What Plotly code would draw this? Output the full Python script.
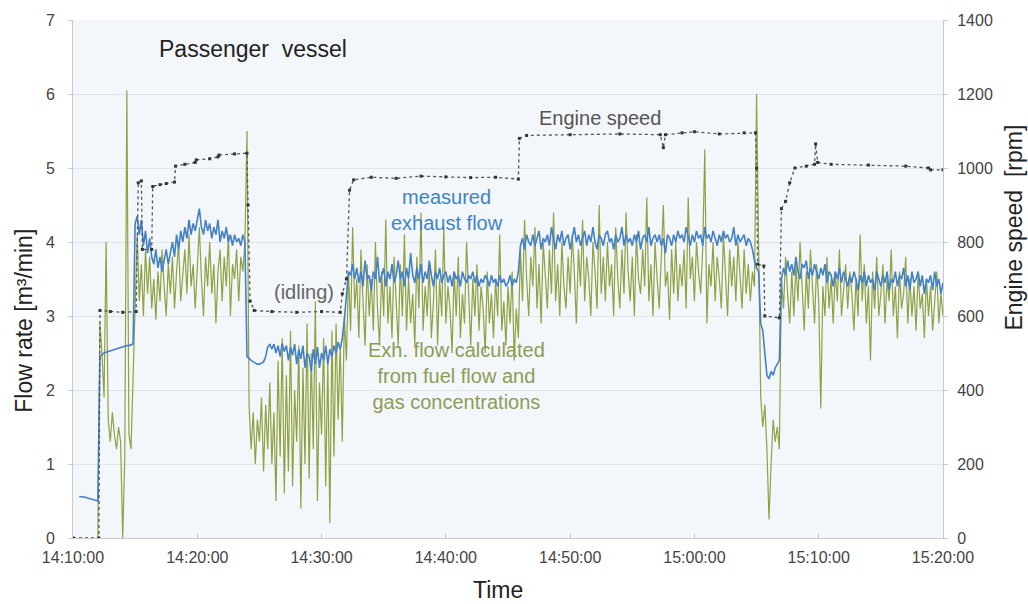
import pandas as pd
import plotly.graph_objects as go

DAY = "2013-05-14 "

# logger samples every 10 s, 14:10:00 .. 15:20:00
sample_time = pd.date_range(DAY + "14:10:00", DAY + "15:20:00", freq="10s")

# exhaust flow calculated from fuel flow and gas concentrations [m3/min], one row per minute
calc_flow = [
    None, None, None, None, None, None,
    None, None, None, None, None, None,
    0.0, 2.9, 2.5, 1.9, 4.0, 1.6,
    1.3, 1.7, 1.4, 1.2, 1.5, 1.3,
    0.0, 1.1, 6.05, 1.4, 1.2, 2.2,
    3.4, 4.1, 3.2, 3.7, 3.0, 3.9,
    3.3, 3.8, 3.1, 3.5, 2.95, 3.6,
    3.2, 3.9, 3.4, 3.0, 3.7, 3.3,
    3.8, 3.1, 3.6, 4.0, 3.2, 3.5,
    3.9, 3.3, 4.1, 3.4, 3.7, 3.1,
    3.6, 4.2, 3.5, 3.0, 3.8, 3.4,
    4.0, 3.3, 3.7, 2.9, 3.6, 3.9,
    3.2, 3.8, 3.4, 4.1, 3.0, 3.7,
    3.5, 3.9, 3.2, 3.8, 3.6, 4.0,
    5.5, 1.8, 1.2, 1.7, 1.0, 1.6,
    1.3, 1.9, 0.9, 1.8, 1.2, 2.1,
    1.0, 1.7, 0.5, 2.4, 1.1, 2.7,
    0.6, 2.2, 0.9, 2.8, 0.7, 2.0,
    1.3, 2.6, 0.4, 2.3, 1.0, 2.9,
    0.8, 2.5, 1.2, 3.2, 0.5, 2.1,
    1.4, 2.7, 0.7, 2.4, 0.2, 2.8,
    1.1, 2.9, 1.6, 2.6, 1.3, 3.0,
    2.4, 3.6, 2.8, 4.2, 3.1, 3.5,
    2.7, 3.9, 3.2, 2.6, 3.7, 3.0,
    3.5, 2.8, 4.0, 3.1, 2.6, 3.6,
    3.0, 4.3, 2.9, 3.4, 2.7, 3.8,
    3.2, 2.6, 3.7, 3.0, 4.1, 2.8,
    3.5, 2.9, 3.3, 2.6, 3.8, 3.1,
    4.4, 2.8, 3.4, 3.0, 3.7, 2.7,
    3.2, 3.9, 2.6, 3.5, 3.0, 4.2,
    2.9, 3.4, 3.1, 2.5, 3.6, 3.0,
    3.8, 2.7, 3.3, 2.9, 4.0, 3.2,
    2.6, 3.5, 3.0, 3.7, 2.8, 3.4,
    3.1, 2.5, 3.6, 2.9, 3.3, 2.7,
    3.5, 3.0, 4.1, 2.8, 3.2, 2.6,
    3.4, 2.9, 3.6, 2.4, 3.1, 2.7,
    3.9, 3.2, 4.3, 3.5, 3.0, 3.8,
    3.4, 4.2, 3.1, 3.7, 2.9, 4.0,
    3.5, 3.1, 3.9, 3.3, 4.4, 3.2,
    3.7, 3.0, 4.0, 3.4, 3.1, 3.8,
    3.3, 4.1, 3.6, 2.9, 3.9, 3.4,
    4.3, 3.2, 3.8, 3.5, 3.0, 4.0,
    3.6, 3.1, 4.5, 3.3, 3.8, 3.2,
    4.0, 3.4, 3.7, 3.0, 4.2, 3.5,
    3.1, 3.9, 3.3, 4.4, 3.6, 3.2,
    3.8, 3.0, 4.1, 3.5, 3.3, 3.9,
    3.4, 4.6, 3.2, 3.7, 3.0, 4.0,
    3.5, 3.1, 3.8, 4.5, 3.4, 3.6,
    2.95, 3.9, 3.3, 4.0, 3.2, 3.7,
    3.4, 3.9, 3.1, 4.6, 3.5, 3.8,
    3.2, 4.0, 3.6, 3.3, 3.9, 5.25,
    2.9, 3.7, 3.4, 4.0, 3.2, 3.8,
    3.5, 3.1, 4.1, 3.6, 3.0, 3.9,
    3.4, 3.8, 3.2, 4.0, 3.5, 3.1,
    3.9, 3.3, 3.7, 3.2, 3.6, 3.4,
    6.0, 3.6, 1.9, 1.5, 1.8, 1.2,
    0.25, 1.0, 1.6, 1.3, 1.5, 1.2,
    3.5, 3.1, 3.8, 3.3, 2.9, 3.6,
    3.0, 3.7, 3.2, 4.0, 3.4, 2.8,
    3.6, 3.1, 3.9, 3.3, 2.9, 3.7,
    3.2, 1.75, 3.4, 3.0, 3.8, 3.1,
    3.5, 2.9, 3.6, 3.2, 3.9, 3.0,
    3.4, 3.7, 3.1, 3.6, 3.3, 2.8,
    3.5, 3.0, 4.1, 3.2, 3.7, 2.9,
    3.4, 2.4, 3.6, 3.1, 3.8, 3.0,
    3.3, 3.7, 2.9, 3.5, 3.2, 3.9,
    3.0, 3.4, 2.7, 3.6, 3.1, 3.3,
    3.8, 2.9, 3.5, 3.0, 3.4, 2.8,
    3.6, 3.1, 3.3, 2.7, 3.5, 3.0,
    3.4, 2.8, 3.2, 3.6, 2.9, 3.3,
    3.0,
]

# measured exhaust flow [m3/min]
meas_flow = [
    None, None, None, 0.56, 0.56, 0.55,
    0.55, 0.54, 0.53, 0.52, 0.51, 0.51,
    0.5, 2.45, 2.48, 2.5, 2.51, 2.52,
    2.53, 2.54, 2.55, 2.56, 2.57, 2.57,
    2.58, 2.59, 2.6, 2.6, 2.61, 2.62,
    4.25, 4.35, 4.1, 4.3, 3.95, 4.15,
    3.85, 4.05, 3.8, 3.7, 3.9, 3.65,
    3.8, 3.6, 3.75, 3.9, 3.7, 3.85,
    4.0, 3.8, 4.1, 3.9, 4.15, 4.0,
    4.2, 4.05, 4.3, 4.1, 4.25, 4.15,
    4.3, 4.45, 4.2, 4.1, 4.3, 4.15,
    4.25, 4.05, 4.2, 4.1, 4.3, 4.0,
    4.15, 4.05, 4.2, 4.0, 4.1, 3.95,
    4.1, 4.0, 4.05, 3.95, 4.1, 4.0,
    2.45, 2.42, 2.4, 2.38, 2.36, 2.35,
    2.35, 2.36, 2.38, 2.45, 2.58, 2.62,
    2.55, 2.62, 2.5, 2.6, 2.45, 2.63,
    2.52, 2.6, 2.4, 2.58, 2.47, 2.62,
    2.35, 2.55, 2.42, 2.6, 2.3, 2.5,
    2.45, 2.25, 2.55, 2.35, 2.58, 2.3,
    2.5, 2.4, 2.6, 2.35, 2.55, 2.45,
    2.6, 2.5, 2.65, 2.55, 2.7, 2.95,
    3.3, 3.6, 3.55, 3.7, 3.5, 3.65,
    3.45, 3.6, 3.4, 3.75, 3.5, 3.55,
    3.35, 3.6, 3.5, 3.8, 3.45, 3.55,
    3.65, 3.4, 3.6, 3.5, 3.7, 3.45,
    3.55, 3.75, 3.5, 3.6, 3.4, 3.65,
    3.5, 3.85, 3.55, 3.45, 3.65, 3.5,
    3.7, 3.45, 3.6, 3.5, 3.75, 3.55,
    3.4, 3.6, 3.5, 3.65, 3.45, 3.55,
    3.6, 3.45, 3.55, 3.4, 3.6, 3.5,
    3.55, 3.4, 3.6, 3.5, 3.45, 3.55,
    3.5, 3.6, 3.45, 3.55, 3.4, 3.5,
    3.45, 3.55, 3.5, 3.4, 3.55, 3.45,
    3.5, 3.4, 3.55, 3.45, 3.5, 3.4,
    3.45, 3.55, 3.4, 3.5, 3.45, 3.6,
    3.95, 4.05, 3.9, 4.1, 4.0, 3.95,
    4.1, 3.95, 4.05, 4.15, 3.9, 4.05,
    4.0, 4.1, 3.95, 4.2, 4.05, 3.9,
    4.1, 4.0, 4.15, 3.95, 4.05, 4.1,
    3.9, 4.05, 4.2, 4.0, 4.1, 3.95,
    4.05, 4.15, 3.95, 4.1, 4.0, 4.2,
    4.0, 3.9, 4.1, 4.05, 3.95, 4.1,
    4.15, 4.0, 4.05, 3.9, 4.1, 4.0,
    4.05, 4.2, 3.95, 4.1, 4.0, 4.05,
    3.95, 4.1, 4.0, 4.15, 3.9, 4.05,
    4.1, 4.0, 4.2, 3.95, 4.05, 4.1,
    4.0, 4.1, 3.95, 4.05, 3.85, 4.1,
    4.05, 3.95, 4.1, 4.0, 4.15, 4.05,
    4.1, 4.0, 4.2, 4.05, 3.95, 4.1,
    4.0, 4.15, 4.05, 4.1, 3.95, 4.2,
    4.05, 4.1, 4.0, 4.15, 4.05, 3.95,
    4.1, 4.0, 4.15, 4.05, 4.1, 4.0,
    4.05, 4.2, 3.95, 4.1, 4.0, 4.05,
    4.1, 3.95, 4.05, 4.0, 3.9, 3.75,
    3.65, 3.6, 2.9, 2.8, 2.5, 2.2,
    2.15, 2.25, 2.2, 2.3, 2.35, 2.4,
    3.5, 3.65, 3.55, 3.75, 3.6, 3.7,
    3.55, 3.8, 3.6, 3.5, 3.7, 3.65,
    3.75, 3.5, 3.65, 3.55, 3.7, 3.6,
    3.5, 3.65, 3.55, 3.7, 3.45, 3.6,
    3.55, 3.4, 3.6, 3.5, 3.65, 3.45,
    3.6, 3.5, 3.4, 3.55, 3.45, 3.6,
    3.5, 3.35, 3.55, 3.45, 3.6, 3.4,
    3.55, 3.45, 3.5, 3.35, 3.6, 3.5,
    3.4, 3.55, 3.45, 3.6, 3.35, 3.5,
    3.45, 3.6, 3.4, 3.55, 3.5, 3.65,
    3.4, 3.55, 3.35, 3.6, 3.45, 3.5,
    3.6, 3.4, 3.55, 3.3, 3.5, 3.45,
    3.55, 3.35, 3.6, 3.4, 3.5, 3.3,
    3.45,
]

# engine speed [rpm], logged on change
rpm_time = [
    "14:10:00", "14:12:05", "14:12:10", "14:13:00", "14:14:00", "14:15:05",
    "14:15:15", "14:15:30", "14:15:35", "14:16:20", "14:16:25", "14:17:00",
    "14:17:30", "14:18:10", "14:18:15", "14:19:00", "14:19:50", "14:19:55",
    "14:21:00", "14:21:40", "14:21:45", "14:23:00", "14:24:00", "14:24:05",
    "14:24:15", "14:24:35", "14:26:00", "14:28:00", "14:30:00", "14:31:30",
    "14:31:40", "14:32:00", "14:32:15", "14:32:35", "14:34:00", "14:36:00",
    "14:38:00", "14:40:00", "14:42:00", "14:44:00", "14:45:50", "14:45:55",
    "14:46:30", "14:50:00", "14:54:00", "14:57:15", "14:57:30", "14:57:40",
    "14:59:00", "15:00:00", "15:02:00", "15:04:00", "15:04:55", "15:05:00",
    "15:05:05", "15:05:35", "15:05:40", "15:06:50", "15:07:00", "15:07:20",
    "15:07:40", "15:08:05", "15:09:00", "15:09:40", "15:09:45", "15:09:55",
    "15:11:00", "15:14:00", "15:17:00", "15:18:50", "15:19:00", "15:20:00",
]
rpm = [
    0, 0, 615, 612, 610, 612,
    960, 965, 780, 780, 950, 955,
    958, 962, 1005, 1010, 1015, 1022,
    1025, 1030, 1035, 1038, 1040, 900,
    640, 615, 612, 610, 612, 610,
    660, 700, 940, 968, 975, 972,
    978, 976, 974, 975, 970, 1080,
    1088, 1090, 1092, 1090, 1055, 1090,
    1095, 1098, 1092, 1095, 1095, 1000,
    740, 735, 600, 595, 890, 910,
    960, 1000, 1005, 1010, 1065, 1015,
    1010, 1008, 1005, 1000, 995, 995,
]

assert len(calc_flow) == len(sample_time) and len(meas_flow) == len(sample_time)
rpm_dt = pd.to_datetime([DAY + t for t in rpm_time])

fig = go.Figure()
fig.add_trace(go.Scatter(x=sample_time, y=calc_flow, mode="lines",
                         line=dict(color="#8fa140", width=1.2), name="calculated"))
fig.add_trace(go.Scatter(x=sample_time, y=meas_flow, mode="lines",
                         line=dict(color="#4480c6", width=1.6), name="measured"))
fig.add_trace(go.Scatter(x=rpm_dt, y=rpm, yaxis="y2", mode="lines+markers",
                         line=dict(color="#555555", width=1.3, dash="dot"),
                         marker=dict(symbol="square", size=3, color="#333333"),
                         name="engine speed"))

tick_font = dict(family="Liberation Sans, Arial", size=16, color="#444444")
fig.update_layout(
    width=1028, height=604,
    margin=dict(l=73, r=85, t=16, b=66),
    paper_bgcolor="white", plot_bgcolor="#f3f7fc",
    showlegend=False,
    font=dict(family="Liberation Sans, Arial", color="#333333"),
    xaxis=dict(type="date",
               range=[DAY + "14:10:00", DAY + "15:20:00"],
               dtick=600000, tickformat="%H:%M:%S",
               showgrid=False, showline=True, linecolor="#c8ccd0",
               ticks="inside", ticklen=4, tickcolor="#c8ccd0",
               tickfont=tick_font, zeroline=False, ticklabelstandoff=5),
    yaxis=dict(range=[0, 7], dtick=1, showgrid=True, gridcolor="#e0e5ea",
               showline=True, linecolor="#c8ccd0", ticks="outside", ticklen=4,
               tickcolor="#c8ccd0", tickfont=tick_font, zeroline=False,
               ticklabelstandoff=10),
    yaxis2=dict(range=[0, 1400], dtick=200, overlaying="y", side="right",
                showgrid=False, showline=True, linecolor="#c8ccd0",
                ticks="outside", ticklen=4, tickcolor="#c8ccd0",
                tickfont=tick_font, zeroline=False, ticklabelstandoff=6),
)

def note(text, x, y, size, color, angle=0):
    fig.add_annotation(text=text, xref="paper", yref="paper", x=x, y=y,
                       xanchor="center", yanchor="middle",
                       showarrow=False, textangle=angle,
                       font=dict(size=size, color=color), align="center")

note("Passenger  vessel", 0.207, 0.944, 23, "#222222")
note("Engine speed", 0.606, 0.81, 20, "#555555")
note("measured<br>exhaust flow", 0.43, 0.634, 20, "#3d84c6")
note("(idling)", 0.265, 0.474, 20, "#666666")
note("Exh. flow calculated<br>from fuel flow and<br>gas concentrations", 0.441, 0.312, 20, "#8d9c55")
# axis titles placed like the original, off-centre
note("Flow rate [m\u00b3/min]", -0.056, 0.42, 23, "#222222", angle=-90)
note("Engine speed  [rpm]", 1.082, 0.6, 23, "#222222", angle=-90)
note("Time", 0.488, -0.1, 23, "#222222")

# drop the default 8px page margin so the figure sits at the window corner
fig.write_html("out.html", config={"displayModeBar": False},
               post_script="document.body.style.margin='0';")
